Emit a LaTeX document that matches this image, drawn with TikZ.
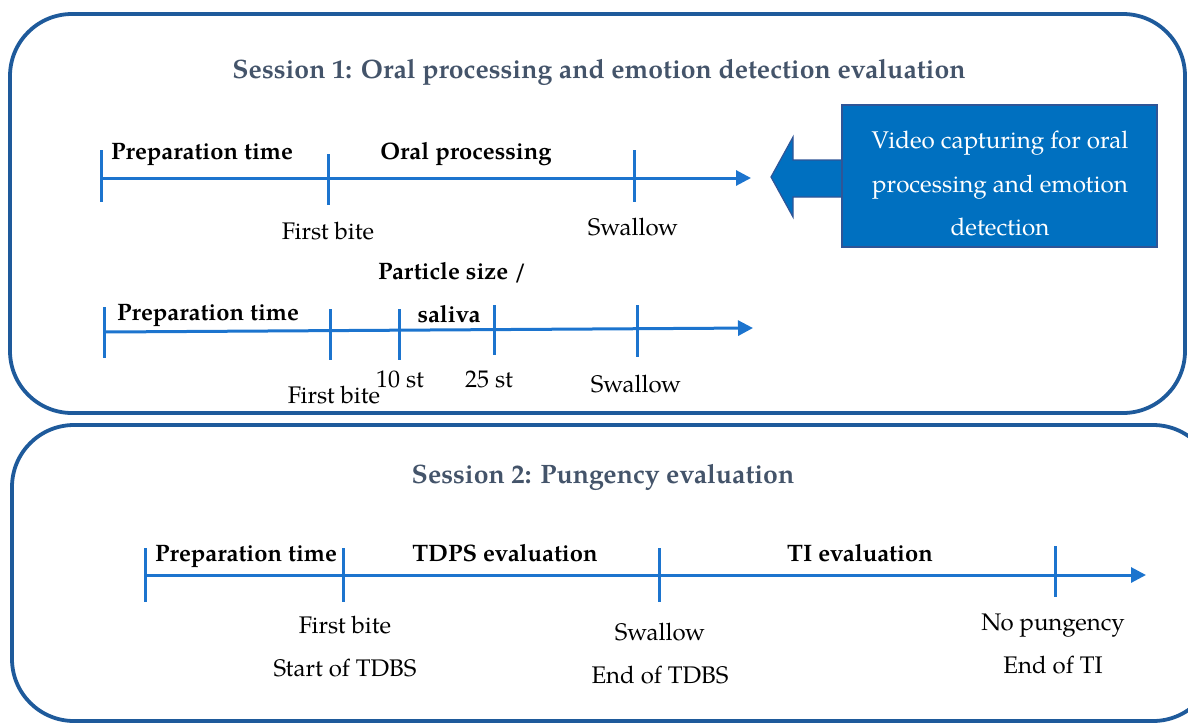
\documentclass[tikz,border=0pt]{standalone}
\usepackage{fontspec}
\setmainfont{texgyrepagella}[Extension=.otf,UprightFont=*-regular,BoldFont=*-bold,ItalicFont=*-italic,BoldItalicFont=*-bolditalic]
\usetikzlibrary{arrows.meta}
\definecolor{boxblue}{RGB}{30,90,155}
\definecolor{lineblue}{RGB}{28,116,206}
\definecolor{titlegray}{RGB}{68,84,106}
\definecolor{vidfill}{RGB}{0,112,192}
\definecolor{videdge}{RGB}{47,85,151}
\tikzset{
  sessbox/.style={draw=boxblue,line width=3.8pt,rounded corners=62pt},
  tl/.style={draw=lineblue,line width=3pt,-{Triangle[length=15pt,width=15pt]}},
  tk/.style={draw=lineblue,line width=3pt},
  title/.style={inner sep=0pt,anchor=base,text=titlegray,font=\fontsize{26.6}{30}\selectfont\bfseries},
  lbl/.style={inner sep=0pt,anchor=base,font=\fontsize{23.8}{28}\selectfont\bfseries},
  txt/.style={inner sep=0pt,anchor=base,font=\fontsize{24}{28}\selectfont},
  vidtxt/.style={inner sep=0pt,anchor=base,text=white,font=\fontsize{24.2}{28}\selectfont},
}
\begin{document}
\begin{tikzpicture}[x=1pt,y=-1pt]
\useasboundingbox (0,0) rectangle (1188,724);
\begin{scope}
\clip (0,0) rectangle (1188,724);
\draw[sessbox] (10,14) rectangle (1185,413);
\draw[sessbox] (12,425) rectangle (1215,721);
\end{scope}

% Session 1
\node[title] (s1) at (599,78) {Session 1: Oral processing and emotion detection evaluation};

% row 1
\coordinate (a0) at (101,178);
\coordinate (a1) at (328,178);
\coordinate (a2) at (634,178);
\coordinate (aE) at (751,178);
\draw[tl] (a0) -- (aE);
\draw[tk] (101,150) -- (101,202);
\draw[tk] (328,154) -- (328,205);
\draw[tk] (634,150) -- (634,202);
\node[lbl,anchor=base west] (p1) at (111,159) {Preparation time};
\node[lbl] (o1) at (466,159) {Oral processing};
\node[txt] (f1) at (328,239) {First bite};
\node[txt] (w1) at (633,235) {Swallow};

% video capture arrow and box
\filldraw[fill=vidfill,draw=videdge,line width=1.2pt]
  (771,177) -- (793,137) -- (793,160) -- (843,160) -- (843,197) -- (793,197) -- (793,217) -- cycle;
\node[draw=videdge,fill=vidfill,line width=1.2pt,minimum width=315pt,minimum height=142pt,inner sep=0pt] (vid) at (999.5,176) {};
\node[vidtxt] (v1) at (1000,148) {Video capturing for oral};
\node[vidtxt] (v2) at (1000,192) {processing and emotion};
\node[vidtxt] (v3) at (1000,235) {detection};

% row 2
\coordinate (b0) at (104,332);
\coordinate (bE) at (753,328);
\draw[tl] (b0) -- (bE);
\draw[tk] (104,307) -- (104,358);
\draw[tk] (330,309) -- (330,360);
\draw[tk] (399,309) -- (399,360);
\draw[tk] (494,305) -- (494,355);
\draw[tk] (637,305) -- (637,357);
\node[lbl,anchor=base west] (p2) at (117,320) {Preparation time};
\node[lbl,anchor=base west] (ps) at (378,279) {Particle size /};
\node[lbl] (sa) at (449,322) {saliva};
\node[txt] (f2) at (334,403) {First bite};
\node[txt] (t10) at (400,387) {10 st};
\node[txt] (t25) at (489,387) {25 st};
\node[txt] (w2) at (636,392) {Swallow};

% Session 2
\node[title] (s2) at (603,483) {Session 2: Pungency evaluation};
\coordinate (c0) at (145,575);
\coordinate (cE) at (1146,575);
\draw[tl] (c0) -- (cE);
\draw[tk] (145,548) -- (145,602);
\draw[tk] (343,548) -- (343,602);
\draw[tk] (659,548) -- (659,602);
\draw[tk] (1055,546) -- (1055,597);
\node[lbl,anchor=base west] (p3) at (155,561) {Preparation time};
\node[lbl] (td) at (505,561) {TDPS evaluation};
\node[lbl] (ti) at (860,561) {TI evaluation};
\node[txt] (f3) at (345,633) {First bite};
\node[txt] (st) at (345,676) {Start of TDBS};
\node[txt] (w3) at (660,640) {Swallow};
\node[txt] (et) at (660,683) {End of TDBS};
\node[txt] (np) at (1053,630) {No pungency};
\node[txt] (ei) at (1053,673) {End of TI};
\end{tikzpicture}
\end{document}
